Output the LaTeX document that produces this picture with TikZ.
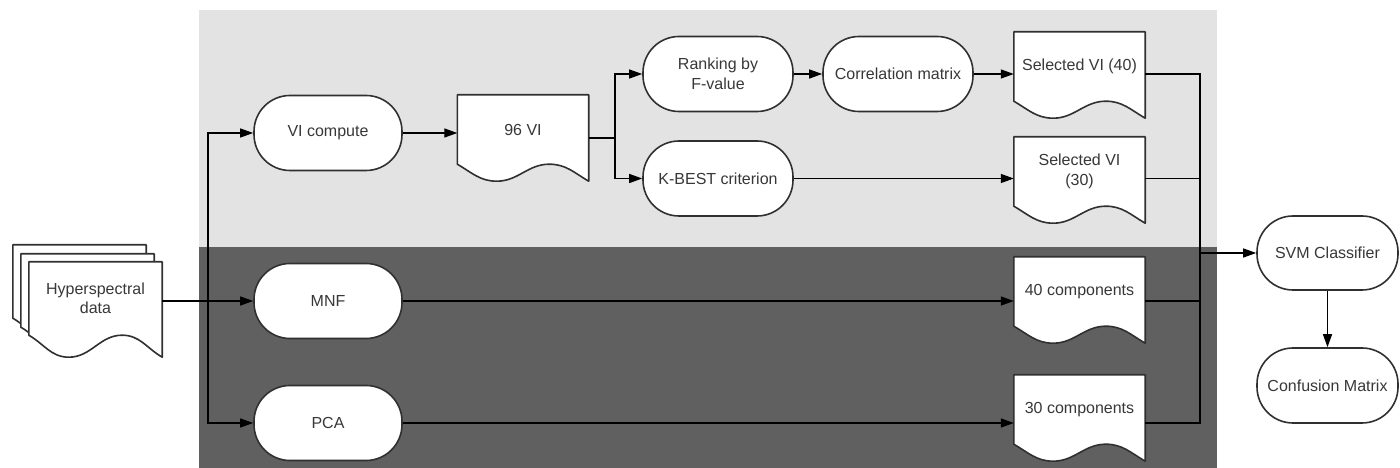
\documentclass[tikz,border=0pt]{standalone}
\usepackage{fontspec}
\setmainfont{Liberation Sans}
\usetikzlibrary{arrows.meta,calc}
\pgfdeclarelayer{panels}
\pgfdeclarelayer{docs}
\pgfsetlayers{panels,docs,main}
\definecolor{lightpanel}{HTML}{E3E3E3}
\definecolor{darkpanel}{HTML}{606060}
\definecolor{inkgray}{HTML}{303030}
\definecolor{txtgray}{HTML}{383838}
\tikzset{
  term/.style={rectangle, rounded corners=36pt, draw=inkgray, line width=1.6pt, fill=white,
    minimum width=148pt, minimum height=75pt, inner sep=2pt,
    font=\fontsize{16}{19.5}\selectfont, text=txtgray, align=center},
  docbox/.style={rectangle, inner sep=0pt, minimum width=131pt, minimum height=69pt,
    font=\fontsize{16}{19.5}\selectfont, text=txtgray, align=center},
  docline/.style={draw=inkgray, line width=1.6pt, fill=white, line join=round},
  conn/.style={draw=black, line width=1.3pt},
  arr/.style={conn, -{Triangle[length=13pt,width=9pt]}},
}
\newcommand\docwave[2]{%
  \begin{pgfonlayer}{docs}
  \path[docline]
   (#1.north west) -- (#1.north east) -- ([yshift=-#2pt]#1.south east)
   to[out=150,in=0] ($(#1.south west)!0.7!(#1.south east)$)
   to[out=180,in=0] ([yshift=-#2pt]$(#1.south west)!0.3!(#1.south east)$)
   to[out=180,in=-30] (#1.south west) -- cycle;
  \end{pgfonlayer}}
\begin{document}
\begin{tikzpicture}[x=1pt,y=1pt]
\useasboundingbox (0,0) rectangle (1400,468);
% panels
\begin{pgfonlayer}{panels}
\fill[lightpanel] (199,221) rectangle (1217,458);
\fill[darkpanel] (199,0) rectangle (1217,221);
\end{pgfonlayer}
% hyperspectral stack
\node[docbox, minimum width=133pt, minimum height=73pt] (hyp3) at (79.5,186.5) {};
\node[docbox, minimum width=133pt, minimum height=73pt] (hyp2) at (87.5,177.5) {};
\node[docbox, minimum width=133pt, minimum height=73pt] (hyp) at (95.5,169.5) {Hyperspectral\\data};
\docwave{hyp3}{22}
\docwave{hyp2}{22}
\docwave{hyp}{22}
% process nodes
\node[term] (vic) at (328,335) {VI compute};
\node[term] (mnf) at (328,167) {MNF};
\node[term] (pca) at (328,45) {PCA};
\node[docbox] (vi96) at (523,338.5) {96 VI};
\node[term, minimum width=150pt] (rank) at (718,394) {Ranking by\\F-value};
\node[term, minimum width=150pt] (corr) at (898,394) {Correlation matrix};
\node[term, minimum width=150pt] (kbest) at (718,289.5) {K-BEST criterion};
\node[docbox] (sv40) at (1079.5,401.5) {Selected VI (40)};
\node[docbox] (sv30) at (1079.5,296.5) {Selected VI\\(30)};
\node[docbox] (c40) at (1079.5,176.5) {40 components};
\node[docbox] (c30) at (1079.5,58.5) {30 components};
\node[term, minimum width=141pt, minimum height=74pt] (svm) at (1327.5,215) {SVM Classifier};
\node[term, minimum width=141pt] (conf) at (1327.5,82.5) {Confusion Matrix};
\docwave{vi96}{17}
\docwave{sv40}{17}
\docwave{sv30}{17}
\docwave{c40}{17}
\docwave{c30}{17}
% connectors
\coordinate (hsplit) at (208,167);
\draw[arr] (mnf.west -| hyp.east) -- (mnf.west);
\draw[arr] (hsplit) |- (vic.west);
\draw[arr] (hsplit) |- (pca.west);
\draw[arr] (vic.east) -- (vic.east -| vi96.west);
\coordinate (split) at (615,330);
\draw[conn] ([yshift=-8.5pt]vi96.east) -- (split);
\draw[arr] (split) |- (rank.west);
\draw[arr] (split) |- (kbest.west);
\draw[arr] (rank.east) -- (corr.west);
\draw[arr] (corr.east) -- (corr.east -| sv40.west);
\draw[arr] (kbest.east) -- (kbest.east -| sv30.west);
\draw[arr] (mnf.east) -- (mnf.east -| c40.west);
\draw[arr] (pca.east) -- (pca.east -| c30.west);
\coordinate (bustop) at (1200,394);
\coordinate (busbot) at (1200,45);
\draw[conn] (corr.east -| sv40.east) -- (bustop) -- (busbot) -- (pca.east -| c30.east);
\draw[conn] (kbest.east -| sv30.east) -- (kbest.east -| bustop);
\draw[conn] (mnf.east -| c40.east) -- (mnf.east -| bustop);
\draw[arr] (svm.west -| bustop) -- (svm.west);
\draw[arr] (svm.south) -- (conf.north);
\end{tikzpicture}
\end{document}
